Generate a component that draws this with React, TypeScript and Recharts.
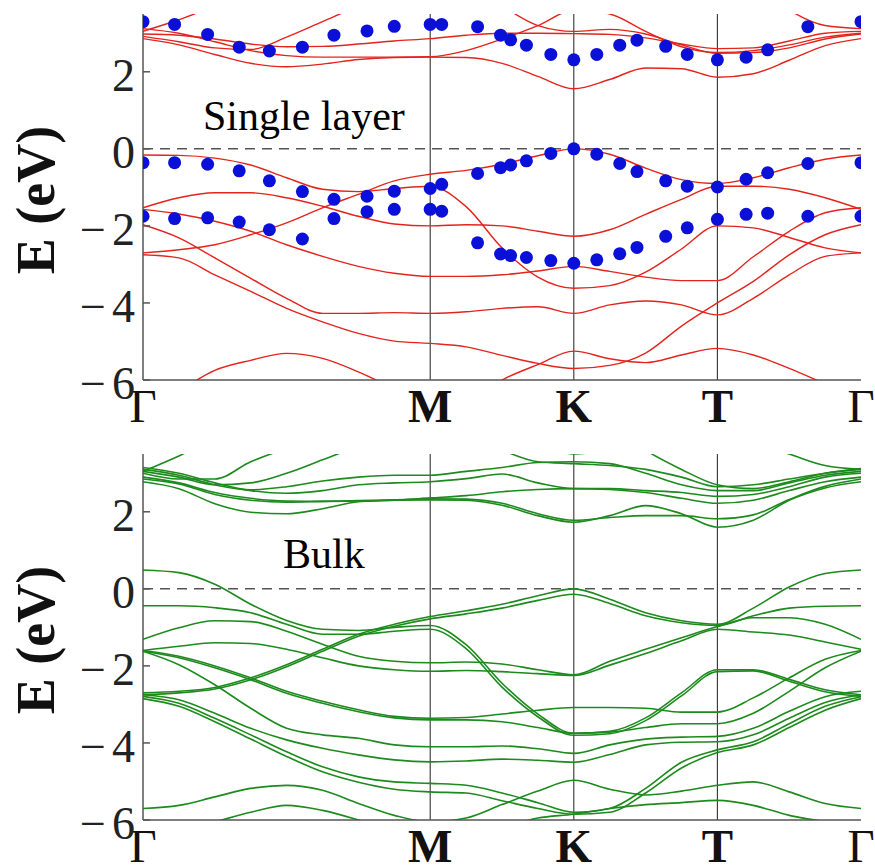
import React from "react";
import {
  ComposedChart,
  Line,
  Scatter,
  XAxis,
  YAxis,
  ReferenceLine,
  Label,
} from "recharts";

// k-path: Γ(0) -> M(2) -> K(3) -> T(4) -> Γ(5)
const kPath = [0, 0.25, 0.5, 0.75, 1, 1.25, 1.5, 1.75, 2, 2.25, 2.5, 2.75, 3, 3.25, 3.5, 3.75, 4, 4.25, 4.5, 4.75, 5];
const kTicks = [0, 2, 3, 4, 5];
const kLabels = ["Γ", "M", "K", "T", "Γ"];
const eTicks = [-6, -4, -2, 0, 2];
const eDomain: [number, number] = [-6, 3.5];

// single layer, red bands
const slVal1 = [-0.16, -0.17, -0.24, -0.42, -0.75, -1.05, -1.11, -1.03, -0.97, -1.5, -2.57, -3.33, -3.62, -3.55, -3.2, -2.6, -2.0, -2.05, -2.3, -2.57, -2.7];
const slVal2 = [-1.57, -1.69, -1.88, -2.14, -2.49, -2.79, -3.05, -3.23, -3.31, -3.31, -3.27, -3.17, -3.05, -3.18, -3.33, -3.42, -3.42, -2.8, -2.14, -1.66, -1.53];
const slVal3 = [-2.7, -2.62, -2.49, -2.23, -1.92, -1.53, -1.18, -0.83, -0.66, -0.56, -0.4, -0.18, 0.0, -0.14, -0.5, -0.8, -0.9, -0.75, -0.49, -0.27, -0.16];
const slVal4 = [-1.53, -1.27, -1.14, -1.14, -1.27, -1.49, -1.75, -1.95, -2.0, -1.97, -2.0, -2.14, -2.27, -2.1, -1.7, -1.31, -0.97, -0.97, -1.05, -1.27, -1.57];
const slVal5 = [-1.97, -2.31, -2.83, -3.36, -3.88, -4.27, -4.27, -4.25, -4.27, -4.23, -4.14, -4.1, -4.27, -4.05, -3.95, -4.05, -4.31, -3.88, -3.27, -2.79, -2.7];
const slVal6 = [-2.75, -2.83, -3.27, -3.7, -4.14, -4.49, -4.79, -4.99, -5.05, -5.14, -5.36, -5.57, -5.7, -5.62, -5.3, -4.6, -4.0, -3.44, -2.75, -2.23, -1.97];
const slVal7 = [-7.0, -6.3, -5.75, -5.49, -5.31, -5.44, -5.79, -6.23, -6.7, -6.6, -6.0, -5.6, -5.25, -5.45, -5.55, -5.35, -5.18, -5.35, -5.7, -6.1, -6.5];
const slCond1 = [2.86, 2.7, 2.45, 2.22, 2.13, 2.2, 2.32, 2.37, 2.38, 2.37, 2.22, 1.88, 1.56, 1.8, 2.1, 2.08, 1.86, 1.95, 2.3, 2.68, 2.86];
const slCond2 = [3.12, 3.0, 2.78, 2.55, 2.42, 2.38, 2.38, 2.38, 2.39, 2.55, 2.85, 3.2, 3.6, 3.5, 3.05, 2.65, 2.5, 2.55, 2.7, 2.9, 3.0];
const slCond3 = [2.98, 2.95, 2.85, 2.72, 2.65, 2.66, 2.72, 2.8, 2.86, 2.95, 3.0, 3.0, 2.99, 2.97, 2.88, 2.72, 2.6, 2.62, 2.8, 3.0, 3.05];
const slCond4 = [3.05, 3.35, 3.7, 4.0, 4.2, 4.3, 4.4, 4.4, 4.4, 4.2, 3.7, 3.2, 3.05, 3.1, 2.98, 2.7, 2.48, 2.5, 2.62, 2.85, 2.98];
const slCond5 = [2.92, 2.78, 2.62, 2.58, 2.9, 3.3, 3.7, 4.0, 4.2, 4.3, 4.3, 4.3, 4.3, 4.3, 4.3, 4.3, 4.3, 4.3, 3.6, 3.2, 3.12];

// single layer, blue points
const dotK = [0, 0.22, 0.45, 0.67, 0.88, 1.11, 1.33, 1.56, 1.75, 2.0, 2.08, 2.33, 2.49, 2.56, 2.67, 2.84, 3.0, 3.16, 3.32, 3.44, 3.64, 3.79, 4.0, 4.2, 4.35, 4.63, 5.0];
const dotCond = [3.3, 3.23, 2.97, 2.64, 2.54, 2.64, 2.95, 3.06, 3.18, 3.23, 3.23, 3.17, 2.95, 2.83, 2.69, 2.45, 2.31, 2.45, 2.69, 2.82, 2.66, 2.45, 2.31, 2.38, 2.57, 3.17, 3.3];
const dotVal1 = [-0.36, -0.36, -0.4, -0.57, -0.83, -1.11, -1.31, -1.23, -1.1, -1.03, -0.92, -0.64, -0.49, -0.42, -0.31, -0.12, 0.0, -0.14, -0.38, -0.59, -0.83, -0.97, -0.99, -0.79, -0.62, -0.38, -0.36];
const dotVal2 = [-1.75, -1.81, -1.79, -1.9, -2.1, -2.34, -1.81, -1.63, -1.57, -1.57, -1.62, -2.44, -2.73, -2.77, -2.82, -2.9, -2.97, -2.88, -2.72, -2.56, -2.27, -2.05, -1.83, -1.7, -1.67, -1.75, -1.75];

// bulk, green bands
const bkVal1a = [0.49, 0.42, 0.12, -0.4, -0.82, -1.05, -1.08, -1.0, -0.95, -1.45, -2.45, -3.25, -3.75, -3.7, -3.35, -2.7, -2.1, -2.1, -2.35, -2.62, -2.75];
const bkVal1b = [-0.44, -0.44, -0.49, -0.62, -0.92, -1.18, -1.18, -1.1, -1.05, -1.55, -2.55, -3.32, -3.8, -3.76, -3.42, -2.78, -2.15, -2.13, -2.4, -2.67, -2.79];
const bkVal2a = [-2.7, -2.66, -2.56, -2.31, -1.97, -1.57, -1.18, -0.92, -0.72, -0.57, -0.4, -0.18, 0.0, -0.27, -0.62, -0.83, -0.92, -0.5, 0.05, 0.4, 0.49];
const bkVal2b = [-2.75, -2.7, -2.6, -2.36, -2.02, -1.62, -1.23, -0.97, -0.78, -0.65, -0.5, -0.3, -0.14, -0.38, -0.7, -0.88, -0.95, -0.7, -0.5, -0.45, -0.44];
const bkVal3a = [-1.31, -1.01, -0.83, -0.85, -1.1, -1.44, -1.75, -1.88, -1.92, -1.9, -1.95, -2.1, -2.23, -1.88, -1.57, -1.27, -0.98, -0.75, -0.75, -0.92, -1.31];
const bkVal3b = [-1.6, -1.49, -1.4, -1.42, -1.57, -1.79, -2.0, -2.1, -2.14, -2.12, -2.15, -2.2, -2.25, -1.98, -1.68, -1.35, -1.05, -1.12, -1.2, -1.38, -1.57];
const bkVal4a = [-1.6, -1.75, -2.0, -2.31, -2.66, -2.92, -3.14, -3.31, -3.36, -3.34, -3.25, -3.15, -3.08, -3.08, -3.1, -3.2, -3.2, -2.83, -2.31, -1.83, -1.6];
const bkVal4b = [-1.62, -1.79, -2.05, -2.36, -2.71, -2.97, -3.19, -3.35, -3.4, -3.4, -3.45, -3.6, -3.75, -3.72, -3.6, -3.5, -3.5, -3.23, -2.66, -2.05, -1.62];
const bkVal5 = [-1.62, -1.97, -2.49, -3.1, -3.62, -3.79, -3.88, -4.05, -4.1, -4.1, -4.08, -4.15, -4.27, -4.05, -3.9, -3.85, -3.83, -3.62, -3.18, -2.8, -2.66];
const bkVal6 = [-2.75, -2.88, -3.23, -3.62, -3.92, -4.14, -4.31, -4.44, -4.49, -4.47, -4.42, -4.45, -4.5, -4.3, -4.05, -3.98, -3.97, -3.79, -3.36, -2.95, -2.75];
const bkVal7a = [-2.79, -2.97, -3.36, -3.79, -4.23, -4.62, -4.88, -5.01, -5.05, -5.1, -5.3, -5.55, -5.8, -5.7, -5.18, -4.5, -4.18, -3.97, -3.5, -3.05, -2.8];
const bkVal7b = [-2.85, -3.05, -3.45, -3.9, -4.35, -4.75, -5.02, -5.2, -5.27, -5.3, -5.5, -5.7, -5.85, -5.8, -5.3, -4.65, -4.25, -4.05, -3.6, -3.15, -2.85];
const bkVal8 = [-5.7, -5.62, -5.4, -5.18, -5.1, -5.23, -5.57, -5.88, -6.05, -5.95, -5.6, -5.25, -4.97, -5.2, -5.35, -5.25, -5.1, -5.01, -5.27, -5.57, -5.7];
const bkVal9 = [-6.6, -6.3, -6.05, -5.8, -5.62, -5.75, -6.0, -6.3, -6.6, -6.4, -6.2, -5.95, -5.85, -5.7, -5.6, -5.55, -5.49, -5.62, -5.88, -6.05, -6.3];
const bkCond1 = [2.78, 2.6, 2.21, 1.99, 1.95, 2.08, 2.26, 2.3, 2.31, 2.3, 2.17, 1.9, 1.73, 1.9, 2.16, 1.95, 1.6, 1.78, 2.3, 2.62, 2.78];
const bkCond2 = [2.85, 2.72, 2.45, 2.3, 2.25, 2.27, 2.29, 2.31, 2.34, 2.33, 2.22, 1.95, 1.78, 1.85, 1.9, 1.9, 1.82, 1.92, 2.32, 2.66, 2.85];
const bkCond3 = [2.9, 2.75, 2.5, 2.35, 2.28, 2.27, 2.28, 2.3, 2.36, 2.42, 2.52, 2.58, 2.6, 2.58, 2.5, 2.35, 2.22, 2.3, 2.55, 2.78, 2.9];
const bkCond4 = [3.0, 2.85, 2.85, 3.3, 3.65, 4.0, 4.2, 4.3, 4.3, 4.3, 4.2, 3.8, 3.5, 3.6, 3.7, 3.8, 3.8, 3.8, 3.5, 3.2, 3.1];
const bkCond5 = [3.05, 2.9, 2.7, 2.75, 3.0, 3.35, 3.7, 4.0, 4.2, 4.3, 4.3, 4.3, 4.3, 4.3, 3.6, 3.1, 2.7, 2.6, 2.78, 3.0, 3.12];
const bkCond6 = [3.1, 2.95, 2.7, 2.57, 2.65, 2.8, 2.9, 2.95, 2.95, 3.05, 3.15, 3.28, 3.3, 3.25, 3.0, 2.7, 2.55, 2.55, 2.75, 2.95, 3.05];
const bkCond7 = [3.15, 3.0, 2.75, 2.55, 2.48, 2.55, 2.7, 2.75, 2.78, 2.86, 2.98, 2.75, 2.6, 2.6, 2.55, 2.5, 2.4, 2.45, 2.65, 2.9, 3.0];
const bkCond8 = [3.05, 3.45, 3.9, 4.2, 4.3, 4.3, 4.3, 4.3, 4.3, 4.0, 3.6, 3.3, 3.25, 3.2, 3.1, 2.9, 2.65, 2.7, 2.85, 3.0, 3.1];

const singleBands = [slCond1, slCond2, slCond3, slCond4, slCond5, slVal1, slVal2, slVal3, slVal4, slVal5, slVal6, slVal7];
const bulkBands = [
  bkCond1, bkCond2, bkCond3, bkCond4, bkCond5, bkCond6, bkCond7, bkCond8,
  bkVal1a, bkVal1b, bkVal2a, bkVal2b, bkVal3a, bkVal3b, bkVal4a, bkVal4b,
  bkVal5, bkVal6, bkVal7a, bkVal7b, bkVal8, bkVal9,
];

const toRows = (bands: number[][]) =>
  kPath.map((k, i) => {
    const row: Record<string, number> = { k };
    bands.forEach((b, j) => (row["b" + j] = b[i]));
    return row;
  });

const dots = [dotCond, dotVal1, dotVal2].flatMap((es) => es.map((e, i) => ({ k: dotK[i], e })));

const SERIF = "'Liberation Serif', 'Times New Roman', serif";
const FRAME = "#555";

const KTick = ({ x, y, payload }: any) => {
  const lab = kLabels[kTicks.indexOf(payload.value)];
  return (
    <text x={x} y={y + 42} textAnchor="middle" fontFamily={SERIF} fontSize={47}
      fontWeight={lab === "Γ" ? 400 : 700} fill="#111">
      {lab}
    </text>
  );
};

const ETick = ({ x, y, payload }: any) => {
  const v = payload.value;
  return (
    <g>
      <line x1={x + 8} x2={x + 15} y1={y} y2={y} stroke={FRAME} strokeWidth={1.5} />
      <text x={x} y={y + 19} textAnchor="end" fontFamily={SERIF} fontSize={46} fill="#222">
        {v < 0 ? (
          <>
            <tspan>−</tspan>
            <tspan dx={6}>{Math.abs(v)}</tspan>
          </>
        ) : (
          String(v)
        )}
      </text>
    </g>
  );
};

const RightTick = ({ x, y }: any) => (
  <line x1={x - 7} x2={x} y1={y} y2={y} stroke={FRAME} strokeWidth={1.5} />
);

const AxisTitle = ({ viewBox }: any) => {
  const cx = (viewBox?.x ?? 8) + 28;
  const cy = (viewBox?.y ?? 14) + (viewBox?.height ?? 366) / 2 + 3;
  return (
    <text x={cx} y={cy} transform={`rotate(-90 ${cx} ${cy})`} textAnchor="middle"
      dominantBaseline="central" fontFamily={SERIF} fontWeight={700} fontSize={54} fill="#111">
      E (eV)
    </text>
  );
};

const Dot = (p: any) => <circle cx={p.cx} cy={p.cy} r={6.5} fill="#0b10d8" />;

type PanelProps = { bands: number[][]; color: string; width: number; withDots?: boolean };

function BandPanel({ bands, color, width, withDots }: PanelProps) {
  const rows = toRows(bands);
  return (
    <ComposedChart width={875} height={440} data={rows}
      margin={{ top: 14, right: 14, bottom: 10, left: 8 }}>
      <XAxis dataKey="k" type="number" domain={[0, 5]} ticks={kTicks} interval={0}
        allowDataOverflow tickSize={0} tickMargin={0} height={50}
        axisLine={{ stroke: FRAME, strokeWidth: 1.5 }} tickLine={false} tick={<KTick />} />
      <XAxis xAxisId="top" orientation="top" type="number" domain={[0, 5]} height={0}
        tick={false} tickLine={false} axisLine={{ stroke: FRAME, strokeWidth: 1.5 }} />
      <YAxis type="number" domain={eDomain} ticks={eTicks} interval={0} allowDataOverflow
        width={135} tickSize={0} tickMargin={8} tickLine={false}
        axisLine={{ stroke: FRAME, strokeWidth: 1.5 }} tick={<ETick />}>
        <Label content={<AxisTitle />} />
      </YAxis>
      <YAxis yAxisId="right" orientation="right" type="number" domain={eDomain} ticks={eTicks}
        interval={0} width={0} tickSize={0} tickMargin={0} tickLine={false}
        axisLine={{ stroke: FRAME, strokeWidth: 1.5 }} tick={<RightTick />} />
      {kTicks.slice(1, 4).map((k) => (
        <ReferenceLine key={k} x={k} stroke="#333" strokeWidth={1.1} />
      ))}
      <ReferenceLine y={0} stroke="#555" strokeWidth={1.5} strokeDasharray="10 7" />
      {bands.map((_, j) => (
        <Line key={j} dataKey={"b" + j} type="monotone" stroke={color} strokeWidth={width}
          dot={false} activeDot={false} isAnimationActive={false} />
      ))}
      {withDots && (
        <Scatter data={dots} dataKey="e" shape={<Dot />} isAnimationActive={false} />
      )}
    </ComposedChart>
  );
}

const noteStyle: React.CSSProperties = {
  position: "absolute",
  fontFamily: SERIF,
  fontSize: 42,
  lineHeight: "42px",
  color: "#000",
  whiteSpace: "nowrap",
};

export default function App() {
  return (
    <div style={{ position: "absolute", left: 0, top: 0, width: 875, height: 867, background: "#fff", overflow: "hidden" }}>
      <div style={{ position: "absolute", left: 0, top: 0 }}>
        <BandPanel bands={singleBands} color="#e3241d" width={1.4} withDots />
      </div>
      <div style={{ position: "absolute", left: 0, top: 440 }}>
        <BandPanel bands={bulkBands} color="#1d8a1d" width={1.6} />
      </div>
      <div style={{ ...noteStyle, left: 203, top: 95 }}>Single layer</div>
      <div style={{ ...noteStyle, left: 283, top: 533 }}>Bulk</div>
    </div>
  );
}
